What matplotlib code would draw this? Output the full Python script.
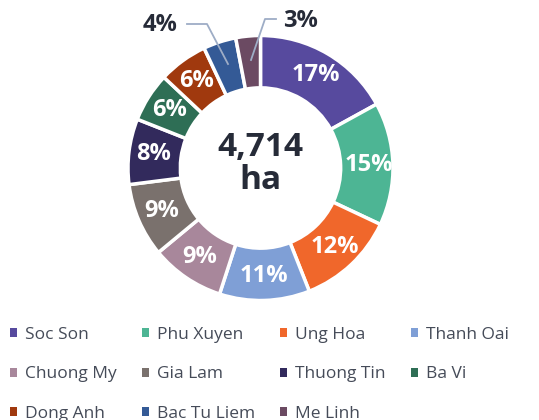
import matplotlib
matplotlib.use("Agg")
import matplotlib.pyplot as plt
from matplotlib.patches import Patch
import numpy as np

# --------------------------------------------------------------------------- #
# data
# --------------------------------------------------------------------------- #
districts = ["Soc Son", "Phu Xuyen", "Ung Hoa", "Thanh Oai", "Chuong My",
             "Gia Lam", "Thuong Tin", "Ba Vi", "Dong Anh", "Bac Tu Liem",
             "Me Linh"]
shares = [17, 15, 12, 11, 9, 9, 8, 6, 6, 4, 3]
total_label = "4,714\nha"

COLORS = ["#574a9e", "#4db594", "#f0672b", "#7f9fd6", "#a8879b",
          "#7a716d", "#322a5c", "#2e6e55", "#a0390e", "#345a96",
          "#6b4a62"]
TEXT_DARK = "#262b38"
LEGEND_TXT = "#454b58"
LEADER = "#9eadc6"

plt.rcParams["font.family"] = ["Open Sans", "DejaVu Sans"]

W, H = 539, 420
fig = plt.figure(figsize=(W / 100, H / 100), dpi=100)

# pie axes: centre (260, 168) px, outer radius 132.5 px
cx, cy, R = 260.5, 168, 132.5
span = 1.2
ax = fig.add_axes([(cx - span * R) / W, (H - cy - span * R) / H,
                   2 * span * R / W, 2 * span * R / H])

width = 0.395
wedges, _ = ax.pie(shares, colors=COLORS, startangle=90, counterclock=False,
                   radius=1.0,
                   wedgeprops=dict(width=width, edgecolor="white", linewidth=2.5))
# pie() resets the limits, so set them afterwards
ax.set_xlim(-span, span)
ax.set_ylim(-span, span)
ax.set_aspect("equal")
ax.axis("off")

for w, s in zip(wedges, shares):
    mid = np.deg2rad((w.theta1 + w.theta2) / 2)
    if s >= 5:
        r = 0.815
        ax.text(r * np.cos(mid), r * np.sin(mid), f"{s}%", color="white",
                ha="center", va="center", fontsize=17, fontweight="bold")


def px(x, y):
    return ((x - cx) / R, (cy - y) / R)


# outside labels for the two small slices
for s, txt_xy, pts in [
    (shares[9], (160, 25), [(187, 24), (207, 24), (228, 64)]),
    (shares[10], (300, 21), [(276, 19), (265, 19), (251, 60)]),
]:
    xs, ys = zip(*[px(*p) for p in pts])
    ax.plot(xs, ys, color=LEADER, lw=1.3, clip_on=False)
    tx, ty = px(*txt_xy)
    ax.text(tx, ty, f"{s}%", color=TEXT_DARK, ha="center", va="center",
            fontsize=17, fontweight="bold", clip_on=False)

ax.text(0, px(0, 164)[1], total_label, color=TEXT_DARK, ha="center",
        va="center", fontsize=24, fontweight="bold", linespacing=1.0)

# legend reads row by row, matplotlib fills column by column
order = [0, 4, 8, 1, 5, 9, 2, 6, 10, 3, 7]
handles = [Patch(facecolor=COLORS[i], edgecolor="none") for i in order]
labels = [districts[i] for i in order]
leg = fig.legend(handles, labels, ncol=4, loc="upper left",
                 bbox_to_anchor=(0.018, 1 - 327 / H), frameon=False,
                 fontsize=12.5, handlelength=0.42, handleheight=0.42,
                 handletextpad=0.45, columnspacing=1.45, labelspacing=1.35,
                 borderaxespad=0, borderpad=0)
for t in leg.get_texts():
    t.set_color(LEGEND_TXT)

fig.savefig("out.png", dpi=100)
